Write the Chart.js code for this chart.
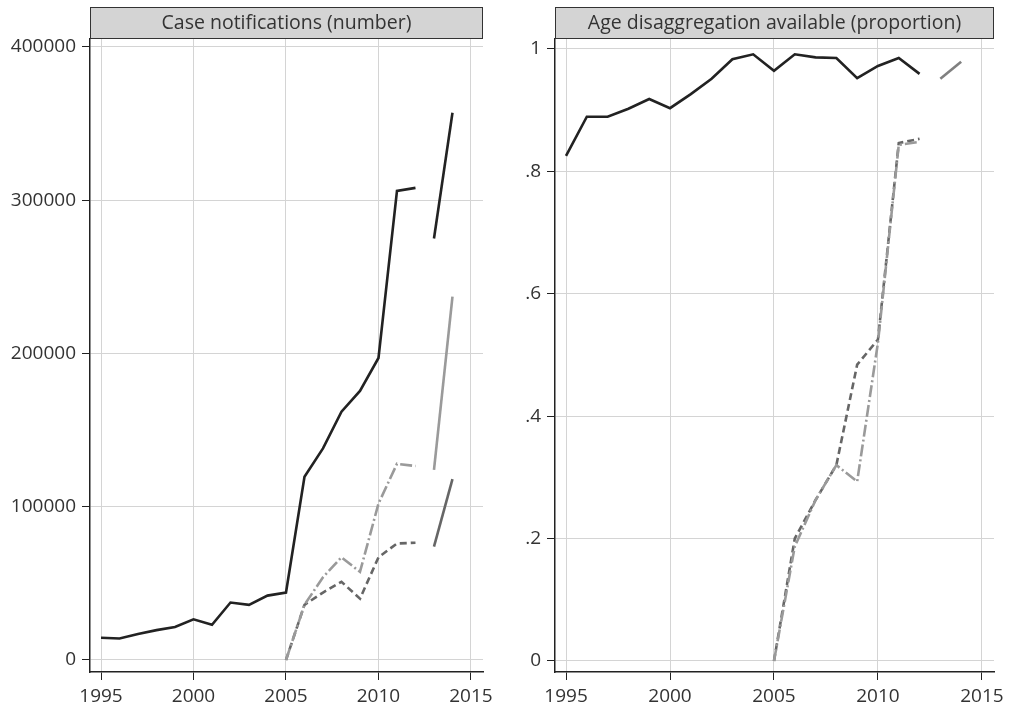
<!DOCTYPE html>
<html lang="en">
<head>
<meta charset="UTF-8">
<title>Case notifications and age disaggregation</title>
<script src="https://cdn.jsdelivr.net/npm/chart.js"></script>
<style>
  body { margin: 0; background: #fff; }
  .wrap { position: relative; width: 1010px; height: 709px; }
  #left { position: absolute; left: 0; top: 0; }
  #right { position: absolute; left: 500px; top: 0; }
</style>
</head>
<body>
<div class="wrap">
  <canvas id="left" width="500" height="709"></canvas>
  <canvas id="right" width="510" height="709"></canvas>
</div>
<script>
// years for each series piece
const yearsOld = [1995, 1996, 1997, 1998, 1999, 2000, 2001, 2002, 2003, 2004, 2005, 2006, 2007, 2008, 2009, 2010, 2011, 2012];
const yearsAge = [2005, 2006, 2007, 2008, 2009, 2010, 2011, 2012];
const yearsNew = [2013, 2014];
const xTicks = [1995, 2000, 2005, 2010, 2015];

// Case notifications (number)
const notifTotal = [14500, 14000, 17000, 19500, 21500, 26500, 23000, 37500, 36000, 42000, 44000, 119500, 138000, 162000, 175500, 197000, 306000, 308000];
const notifAgeA = [0, 36000, 44000, 51000, 40000, 67000, 76000, 76500];    // dashed
const notifAgeB = [0, 36000, 54000, 67000, 57500, 102000, 128000, 126500]; // dash-dot
const notifNewTotal = [275000, 357000];
const notifNewA = [74000, 118000];
const notifNewB = [124000, 237000];
const notifTicks = [0, 100000, 200000, 300000, 400000];

// Age disaggregation available (proportion)
const propTotal = [0.825, 0.889, 0.889, 0.902, 0.918, 0.903, 0.926, 0.951, 0.983, 0.991, 0.964, 0.991, 0.986, 0.985, 0.952, 0.972, 0.985, 0.959];
const propAgeA = [0, 0.2, 0.263, 0.32, 0.484, 0.525, 0.846, 0.853];
const propAgeB = [0, 0.187, 0.263, 0.32, 0.293, 0.52, 0.843, 0.848];
const propNew = [0.951, 0.979];
const propTicks = [0, 0.2, 0.4, 0.6, 0.8, 1];

const FONT = "'Open Sans', sans-serif";

function pts(xs, ys) {
  return xs.map((x, i) => ({ x: x, y: ys[i] }));
}

function line(data, color, dash) {
  return {
    data: data,
    borderColor: color,
    borderWidth: 2.6,
    borderDash: dash || [],
    pointRadius: 0,
    fill: false,
    tension: 0,
    borderJoinStyle: 'miter',
    borderCapStyle: 'butt'
  };
}

// grey strip with the panel title above the plot area
const stripPlugin = {
  id: 'strip',
  afterDraw(chart, args, opts) {
    const a = chart.chartArea;
    const ctx = chart.ctx;
    ctx.save();
    ctx.fillStyle = '#d4d4d4';
    ctx.fillRect(a.left, 7, a.right - a.left, a.top - 7);
    ctx.strokeStyle = '#333';
    ctx.lineWidth = 1;
    ctx.strokeRect(a.left + 0.5, 7.5, a.right - a.left - 1, a.top - 8);
    ctx.fillStyle = '#333';
    ctx.font = '19.5px ' + FONT;
    ctx.textAlign = 'center';
    ctx.textBaseline = 'middle';
    ctx.fillText(opts.text, (a.left + a.right) / 2, 23);
    ctx.restore();
  }
};

function makeChart(id, datasets, opt) {
  return new Chart(document.getElementById(id), {
    type: 'line',
    data: { datasets: datasets },
    plugins: [stripPlugin],
    options: {
      responsive: false,
      animation: false,
      layout: { padding: { top: 39, right: opt.padRight, left: 0, bottom: 0 } },
      plugins: {
        legend: { display: false },
        tooltip: { enabled: false },
        strip: { text: opt.title }
      },
      scales: {
        x: {
          type: 'linear',
          min: opt.xMin,
          max: opt.xMax,
          afterBuildTicks: s => { s.ticks = xTicks.map(v => ({ value: v })); },
          afterFit: s => { s.height = 37; },
          grid: { color: '#d4d4d4', lineWidth: 1, tickColor: '#222', tickLength: 8 },
          border: { display: true, color: '#222', width: 1.5 },
          ticks: { color: '#333', font: { family: FONT, size: 19 }, padding: 5, maxRotation: 0, callback: v => String(v) }
        },
        y: {
          min: opt.yMin,
          max: opt.yMax,
          afterBuildTicks: s => { s.ticks = opt.yTicks.map(v => ({ value: v })); },
          afterFit: s => { s.width = opt.yWidth; },
          grid: { color: '#d4d4d4', lineWidth: 1, tickColor: '#222', tickLength: 8 },
          border: { display: true, color: '#222', width: 1.5 },
          ticks: { color: '#333', font: { family: FONT, size: 19 }, padding: 6, callback: opt.yFmt }
        }
      }
    }
  });
}

makeChart('left', [
  line(pts(yearsOld, notifTotal), '#222'),
  line(pts(yearsAge, notifAgeB), '#9a9a9a', [12, 3, 2, 3]),
  line(pts(yearsAge, notifAgeA), '#666', [7, 4]),
  line(pts(yearsNew, notifNewTotal), '#222'),
  line(pts(yearsNew, notifNewB), '#9a9a9a'),
  line(pts(yearsNew, notifNewA), '#666')
], {
  title: 'Case notifications (number)',
  padRight: 17,
  yWidth: 90,
  xMin: 1994.405, xMax: 2015.65,
  yMin: -7830, yMax: 405100,
  yTicks: notifTicks,
  yFmt: v => String(v)
});

makeChart('right', [
  line(pts(yearsOld, propTotal), '#222'),
  line(pts(yearsAge, propAgeB), '#9a9a9a', [12, 3, 2, 3]),
  line(pts(yearsAge, propAgeA), '#666', [7, 4]),
  line(pts(yearsNew, propNew), '#808080')
], {
  title: 'Age disaggregation available (proportion)',
  padRight: 16,
  yWidth: 55,
  xMin: 1994.47, xMax: 2015.58,
  yMin: -0.018, yMax: 1.016,
  yTicks: propTicks,
  yFmt: v => (v === 0 ? '0' : v === 1 ? '1' : v.toFixed(1).replace(/^0/, ''))
});
</script>
</body>
</html>
